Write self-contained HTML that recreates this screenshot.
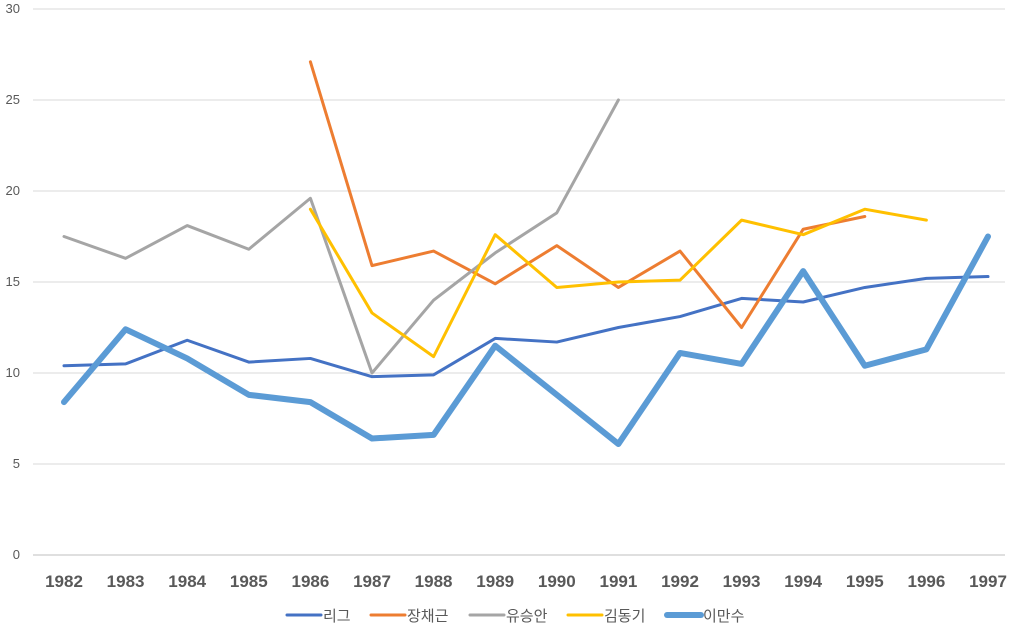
<!DOCTYPE html>
<html><head><meta charset="utf-8"><style>
body{margin:0;background:#fff;}
svg{display:block;font-family:"Liberation Sans","Noto Sans CJK KR",sans-serif;}
</style></head><body>
<svg id="chart" width="1009" height="629" viewBox="0 0 1009 629">
<g id="grid"></g><g id="axes"></g><g id="series"></g><g id="legend"></g>
</svg>
<script>
const years=[1982,1983,1984,1985,1986,1987,1988,1989,1990,1991,1992,1993,1994,1995,1996,1997];
const yTicks=[0,5,10,15,20,25,30];
const league=[10.4,10.5,11.8,10.6,10.8,9.8,9.9,11.9,11.7,12.5,13.1,14.1,13.9,14.7,15.2,15.3];
const jang=[null,null,null,null,27.1,15.9,16.7,14.9,17.0,14.7,16.7,12.5,17.9,18.6,null,null];
const yoo=[17.5,16.3,18.1,16.8,19.6,10.0,14.0,16.6,18.8,25.0,null,null,null,null,null,null];
const kim=[null,null,null,null,19.0,13.3,10.9,17.6,14.7,15.0,15.1,18.4,17.6,19.0,18.4,null];
const lee=[8.4,12.4,10.8,8.8,8.4,6.4,6.6,11.5,8.8,6.1,11.1,10.5,15.6,10.4,11.3,17.5];
const seriesNames=["리그","장채근","유승안","김동기","이만수"];
const NS="http://www.w3.org/2000/svg";
const X=i=>64+i*(988-64)/(years.length-1);
const Y=v=>555-v*(555-9)/30;
function mk(t,a,p){const e=document.createElementNS(NS,t);for(const k in a)e.setAttribute(k,a[k]);p.appendChild(e);return e;}
const grid=document.getElementById('grid'),axes=document.getElementById('axes'),ser=document.getElementById('series'),leg=document.getElementById('legend');
yTicks.forEach(t=>{
 const l=mk('line',{x1:33,x2:1005,y1:Y(t),y2:Y(t),stroke:t===0?'#bfbfbf':'#d9d9d9','stroke-width':1},grid);
 
 
 const tx=mk('text',{x:20,y:Y(t)+4,'text-anchor':'end','font-size':13,fill:'#595959'},axes);
 tx.textContent=t;
 
 
});
years.forEach((yr,i)=>{
 const tx=mk('text',{x:X(i),y:587,'text-anchor':'middle','font-size':17,'font-weight':'bold',fill:'#595959'},axes);
 tx.textContent=yr;
 
 
});
const data=[league,jang,yoo,kim,lee];
const colors=['#4472C4','#ED7D31','#A5A5A5','#FFC000','#5B9BD5'];
const widths=[3,3,3,3,6];
data.forEach((arr,s)=>{
 let d='',pen=false;
 arr.forEach((v,i)=>{if(v==null){pen=false;return;}d+=(pen?'L':'M')+X(i)+' '+Y(v)+' ';pen=true;});
 const p=mk('path',{d:d,fill:'none',stroke:colors[s],'stroke-width':widths[s],'stroke-linejoin':'round','stroke-linecap':'round'},ser);
 
 
});
const lx=[287,371,470,568,667];
seriesNames.forEach((n,s)=>{
 const l=mk('line',{x1:lx[s],x2:lx[s]+34,y1:615,y2:615,stroke:colors[s],'stroke-width':s===4?6:3,'stroke-linecap':'round'},leg);
 
 
 const t=mk('text',{x:lx[s]+36,y:621,'font-size':15,fill:'#595959'},leg);
 t.textContent=n;
 
 
});
</script>
</body></html>
